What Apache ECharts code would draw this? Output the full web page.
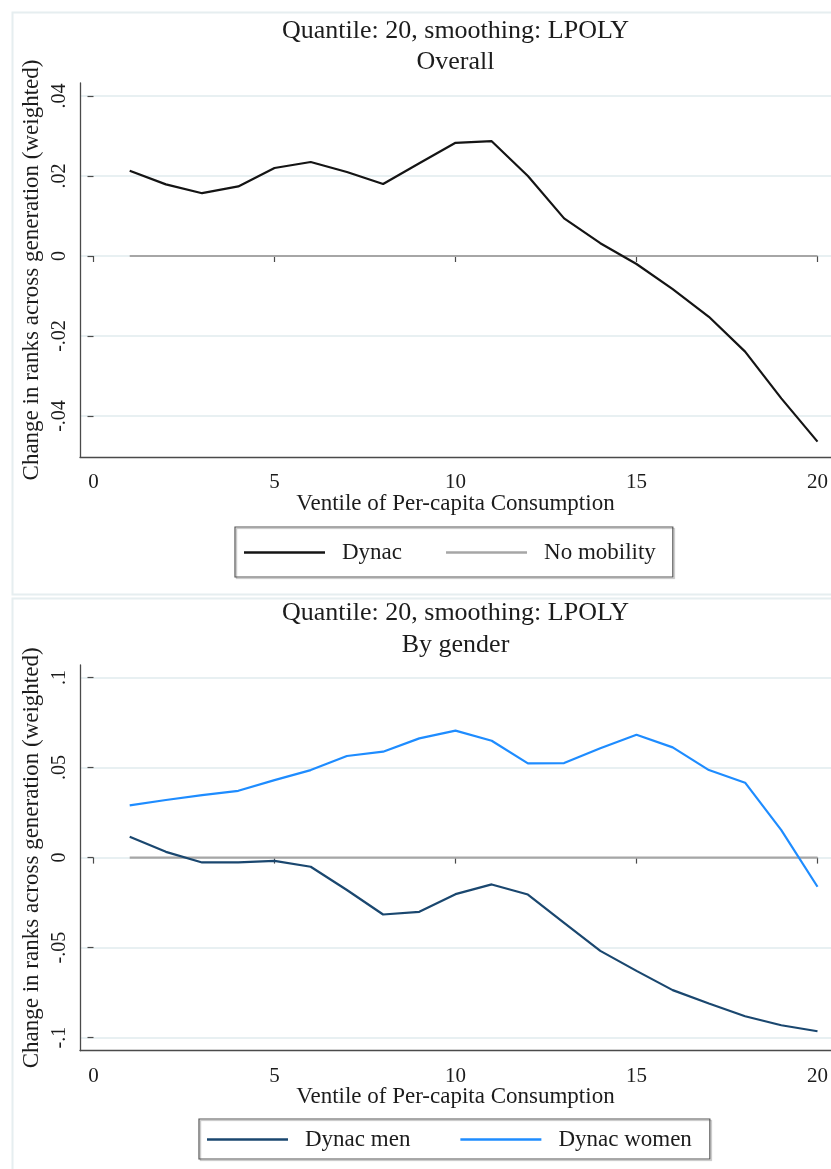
<!DOCTYPE html>
<html>
<head>
<meta charset="utf-8">
<script src="https://cdn.jsdelivr.net/npm/echarts@6/dist/echarts.min.js"></script>
<style>
  html, body { margin: 0; padding: 0; background: #ffffff; }
  #chart { width: 831px; height: 1169px; }
</style>
</head>
<body>
<div id="chart"></div>
<script>
// Ventiles of per-capita consumption (x values)
const ventiles = [1, 2, 3, 4, 5, 6, 7, 8, 9, 10, 11, 12, 13, 14, 15, 16, 17, 18, 19, 20];

// Panel 1: overall change in ranks
const dynac = [0.0213, 0.0179, 0.0157, 0.0174, 0.0220, 0.0235, 0.0210, 0.0180, 0.0232, 0.0283,
               0.0287, 0.0200, 0.0094, 0.0032, -0.0020, -0.0083, -0.0152, -0.0239, -0.0356, -0.0464];

// Reference line (no mobility)
const noMobility = [0, 0, 0, 0, 0, 0, 0, 0, 0, 0, 0, 0, 0, 0, 0, 0, 0, 0, 0, 0];

// Panel 2: by gender
const dynacMen = [0.0116, 0.0032, -0.0027, -0.0027, -0.0018, -0.0051, -0.0180, -0.0316, -0.0301, -0.0203,
                  -0.0149, -0.0205, -0.0362, -0.0518, -0.0629, -0.0736, -0.0810, -0.0881, -0.0931, -0.0964];
const dynacWomen = [0.0290, 0.0320, 0.0347, 0.0371, 0.0430, 0.0486, 0.0564, 0.0588, 0.0662, 0.0705,
                    0.0649, 0.0523, 0.0525, 0.0607, 0.0682, 0.0612, 0.0486, 0.0416, 0.0153, -0.0162];

// Axis settings and text
const xTickStep = 5;
const yTicksTop = { min: -0.04, max: 0.04, step: 0.02 };
const yTicksBottom = { min: -0.1, max: 0.1, step: 0.05 };
const mainTitle = 'Quantile: 20, smoothing: LPOLY';
const panelTitles = ['Overall', 'By gender'];
const xTitle = 'Ventile of Per-capita Consumption';
const yTitle = 'Change in ranks across generation (weighted)';
const legendTop = ['Dynac', 'No mobility'];
const legendBottom = ['Dynac men', 'Dynac women'];

const FONT = 'Liberation Serif';
const TXT = '#1c1c1c';
const AXIS = '#4a4a4a';
const GRIDLINE = '#e8f0f2';
const LABEL_SIZE = 23;

const pairs = ys => ventiles.map((x, i) => [x, ys[i]]);
const stataNum = v => {
  if (Math.abs(v) < 1e-12) return '0';
  return String(+v.toFixed(4)).replace(/^(-?)0\./, '$1.');
};

// Builds the three stacked grids of one panel:
//  data grid (ticks, labels, series), frame grid (axis lines, titles), gridline grid
function panel(k, g, yt) {
  const grids = [
    { left: g.x0, right: 831 - g.x20, top: g.yTop, height: g.yBot - g.yTop },
    { left: 80, right: 0, top: g.frameTop, height: g.frameBot - g.frameTop },
    { left: 80, right: 0, top: g.yTop, height: g.yBot - g.yTop }
  ];
  const xAxes = [
    {
      gridIndex: 3 * k, type: 'value', min: 0, max: 20, interval: xTickStep,
      offset: g.frameBot - g.yBot,
      axisLine: { show: false },
      axisTick: { show: true, length: 6, lineStyle: { color: AXIS, width: 1.2 } },
      axisLabel: { margin: 15, fontFamily: FONT, fontSize: 21, color: TXT },
      splitLine: { show: false }
    },
    {
      gridIndex: 3 * k + 1, type: 'value', min: 0, max: 1,
      axisLine: { show: true, onZero: false, lineStyle: { color: AXIS, width: 1.3 } },
      axisTick: { show: false }, axisLabel: { show: false }, splitLine: { show: false },
      name: xTitle, nameLocation: 'middle', nameGap: 35,
      nameTextStyle: { fontFamily: FONT, fontSize: LABEL_SIZE, color: TXT }
    },
    {
      gridIndex: 3 * k + 2, type: 'value', min: 0, max: 1, show: false
    }
  ];
  const yAxes = [
    {
      gridIndex: 3 * k, type: 'value', min: yt.min, max: yt.max, interval: yt.step,
      offset: g.x0 - 80,
      axisLine: { show: false },
      axisTick: { show: true, length: 6, lineStyle: { color: AXIS, width: 1.2 } },
      axisLabel: { rotate: 90, margin: 10, fontFamily: FONT, fontSize: 20, color: TXT, formatter: stataNum },
      splitLine: { show: false }
    },
    {
      gridIndex: 3 * k + 1, type: 'value', min: 0, max: 1,
      axisLine: { show: true, onZero: false, lineStyle: { color: AXIS, width: 1.3 } },
      axisTick: { show: false }, axisLabel: { show: false }, splitLine: { show: false },
      name: yTitle, nameLocation: 'middle', nameGap: 37,
      nameTextStyle: { fontFamily: FONT, fontSize: LABEL_SIZE, color: TXT }
    },
    {
      gridIndex: 3 * k + 2, type: 'value', min: yt.min, max: yt.max, interval: yt.step,
      axisLine: { show: false }, axisTick: { show: false }, axisLabel: { show: false },
      splitLine: { show: true, lineStyle: { color: GRIDLINE, width: 2 } }
    }
  ];
  return { grids, xAxes, yAxes };
}

const panelTop = panel(0, { x0: 93.5, x20: 819.3, yTop: 96, yBot: 416, frameTop: 83, frameBot: 457 }, yTicksTop);
const panelBottom = panel(1, { x0: 93.5, x20: 819.3, yTop: 677.5, yBot: 1037.7, frameTop: 665, frameBot: 1050.7 }, yTicksBottom);

const lineSeries = (name, data, color, xi, z) => ({
  name, type: 'line', data: pairs(data), xAxisIndex: xi, yAxisIndex: xi,
  symbol: 'none', showSymbol: false, clip: false, z,
  lineStyle: { color, width: 2.2 }, itemStyle: { color }
});

const titleStyle = { fontFamily: FONT, fontSize: 26, fontWeight: 'normal', color: TXT };

const legendCommon = {
  orient: 'horizontal', icon: 'rect', itemWidth: 81, itemHeight: 2.5,
  borderColor: '#555', borderWidth: 1.2,
  shadowColor: 'rgba(0,0,0,0.25)', shadowOffsetX: 1.5, shadowOffsetY: 1.5, shadowBlur: 1,
  textStyle: { fontFamily: FONT, fontSize: LABEL_SIZE, color: TXT, padding: [0, 0, 0, 12] }
};

const option = {
  backgroundColor: '#ffffff',
  animation: false,
  title: [
    { text: mainTitle, left: 455.5, textAlign: 'center', top: 18, padding: 0, textStyle: titleStyle },
    { text: panelTitles[0], left: 455.5, textAlign: 'center', top: 49, padding: 0, textStyle: titleStyle },
    { text: mainTitle, left: 455.5, textAlign: 'center', top: 600, padding: 0, textStyle: titleStyle },
    { text: panelTitles[1], left: 455.5, textAlign: 'center', top: 632, padding: 0, textStyle: titleStyle }
  ],
  graphic: [
    { type: 'rect', left: 10, top: 10, shape: { width: 840, height: 582 }, z: -10,
      style: { fill: 'none', stroke: '#e6eef0', lineWidth: 2 } },
    { type: 'rect', left: 10, top: 596, shape: { width: 840, height: 600 }, z: -10,
      style: { fill: 'none', stroke: '#e6eef0', lineWidth: 2 } }
  ],
  legend: [
    Object.assign({}, legendCommon, {
      data: legendTop, left: 235, top: 527, itemGap: 44, padding: [14, 17, 13, 9]
    }),
    Object.assign({}, legendCommon, {
      data: legendBottom, left: 199, top: 1119, itemGap: 50, padding: [9, 18, 8, 8]
    })
  ],
  grid: [...panelTop.grids, ...panelBottom.grids],
  xAxis: [...panelTop.xAxes, ...panelBottom.xAxes],
  yAxis: [...panelTop.yAxes, ...panelBottom.yAxes],
  series: [
    lineSeries('No mobility', noMobility, '#a6a6a6', 0, 2),
    lineSeries('Dynac', dynac, '#141414', 0, 3),
    lineSeries('No mobility', noMobility, '#a6a6a6', 3, 2),
    lineSeries('Dynac men', dynacMen, '#1a476f', 3, 3),
    lineSeries('Dynac women', dynacWomen, '#1e8cff', 3, 3)
  ]
};

const chart = echarts.init(document.getElementById('chart'), null, { renderer: 'canvas' });
chart.setOption(option);
</script>
</body>
</html>
